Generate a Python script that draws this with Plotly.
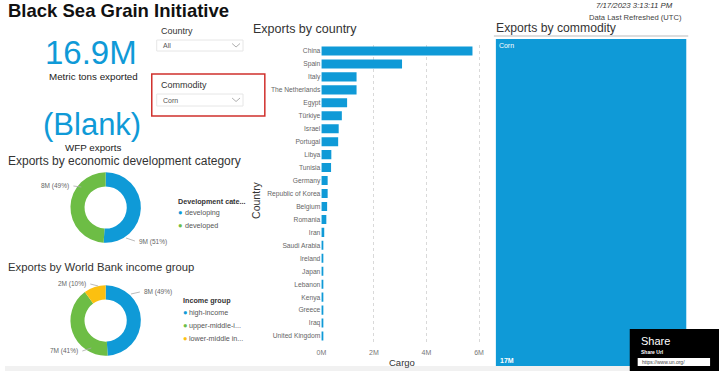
import plotly.graph_objects as go

W, H = 720, 371
def X(px): return px / W
def Y(py): return 1 - py / H

FONT = "Liberation Sans, Arial, sans-serif"
BLUE = "#0f9ad7"
GREEN = "#6dbd45"
YELLOW = "#fcc010"

# ---------------- data ----------------
countries = ["China", "Spain", "Italy", "The Netherlands", "Egypt", "Türkiye", "Israel",
             "Portugal", "Libya", "Tunisia", "Germany", "Republic of Korea", "Belgium",
             "Romania", "Iran", "Saudi Arabia", "Ireland", "Japan", "Lebanon", "Kenya",
             "Greece", "Iraq", "United Kingdom"]
cargo_tons = [5.75e6, 3.07e6, 1.34e6, 1.34e6, 0.98e6, 0.78e6, 0.66e6, 0.64e6, 0.38e6,
              0.37e6, 0.24e6, 0.24e6, 0.22e6, 0.19e6, 0.11e6, 0.06e6, 0.06e6, 0.05e6,
              0.05e6, 0.05e6, 0.05e6, 0.04e6, 0.04e6]
cargo_tickvals = [0, 2e6, 4e6, 6e6]
cargo_ticktext = ["0M", "2M", "4M", "6M"]

dev_labels = ["developing", "developed"]
dev_values = [8.6e6, 8.3e6]
dev_colors = [BLUE, GREEN]

income_labels = ["high-income", "upper-middle-income", "lower-middle income"]
income_legend = ["high-income", "upper-middle-i...", "lower-middle in..."]
income_values = [8.3e6, 6.9e6, 1.7e6]
income_colors = [BLUE, GREEN, YELLOW]

commodities = ["Corn"]
commodity_values = [16.9e6]

total_tons = 16.9e6
wfp_exports = "(Blank)"
refreshed = "7/17/2023 3:13:11 PM"

def fmt_lbl(v, tot):
    return f"{round(v/1e6)}M ({round(100*v/tot)}%)"

fig = go.Figure()

# ---------------- bar chart ----------------
fig.add_trace(go.Bar(
    x=cargo_tons, y=countries, orientation="h",
    marker=dict(color=BLUE, line=dict(width=0)),
    xaxis="x", yaxis="y", showlegend=False, hoverinfo="skip",
))

# ---------------- donuts ----------------
fig.add_trace(go.Pie(
    labels=dev_labels, values=dev_values, hole=0.6, sort=False, direction="clockwise",
    marker=dict(colors=dev_colors, line=dict(width=0)), textinfo="none",
    domain=dict(x=[X(66), X(137)], y=[Y(243), Y(172)]), showlegend=False, hoverinfo="skip",
))
fig.add_trace(go.Pie(
    labels=income_labels, values=income_values, hole=0.6, sort=False, direction="clockwise",
    marker=dict(colors=income_colors, line=dict(width=0)), textinfo="none",
    domain=dict(x=[X(66), X(137)], y=[Y(356), Y(285)]), showlegend=False, hoverinfo="skip",
))

# ---------------- treemap ----------------
fig.add_trace(go.Treemap(
    labels=commodities, parents=[""] * len(commodities), values=commodity_values,
    marker=dict(colors=[BLUE] * len(commodities), line=dict(width=0)),
    textinfo="label", textposition="top left",
    textfont=dict(family=FONT, size=7, color="white"),
    tiling=dict(pad=0), pathbar=dict(visible=False),
    domain=dict(x=[X(495), X(687)], y=[Y(366), Y(39)]), hoverinfo="skip",
))

shapes = []
ann = []

def text(x, y, s, size=9, color="#333", xanchor="left", bold=False, italic=False, **kw):
    if bold:
        s = f"<b>{s}</b>"
    if italic:
        s = f"<i>{s}</i>"
    ann.append(dict(x=X(x), y=Y(y), xref="paper", yref="paper", text=s, showarrow=False,
                    xanchor=xanchor, yanchor="middle",
                    font=dict(family=FONT, size=size, color=color), **kw))

def line(x0, y0, x1, y1, color="#aaa", width=0.8):
    shapes.append(dict(type="line", xref="paper", yref="paper", x0=X(x0), y0=Y(y0),
                       x1=X(x1), y1=Y(y1), line=dict(color=color, width=width)))

def rect(x0, y0, x1, y1, fill=None, lc=None, lw=1):
    shapes.append(dict(type="rect", xref="paper", yref="paper", x0=X(x0), y0=Y(y0),
                       x1=X(x1), y1=Y(y1), fillcolor=fill or "rgba(0,0,0,0)",
                       line=dict(color=lc or "rgba(0,0,0,0)", width=lw if lc else 0),
                       layer="above"))

# title
text(1, 10, "Black Sea Grain Initiative", size=18.5, color="#111", bold=True)

# KPIs
text(87, 53, f"{total_tons/1e6:.1f}M", size=33, color=BLUE, xanchor="center")
text(89, 77, "Metric tons exported", size=9.8, color="#222", xanchor="center")
text(88, 124, wfp_exports, size=31, color=BLUE, xanchor="center")
text(89, 147, "WFP exports", size=9.8, color="#222", xanchor="center")

# slicers
def chevron(cx, cy):
    shapes.append(dict(type="path", xref="paper", yref="paper",
                       path=f"M {X(cx-4)},{Y(cy-2)} L {X(cx)},{Y(cy+1.5)} L {X(cx+4)},{Y(cy-2)}",
                       line=dict(color="#999", width=0.8)))

text(155, 31, "Country", size=9, color="#333")
rect(153, 40, 240, 51, lc="#e6e6e6")
text(157, 45.5, "All", size=7, color="#555")
chevron(233, 45.5)

rect(148, 74, 262, 116, lc="#d0312d", lw=1.5)
text(155, 85, "Commodity", size=9, color="#333")
rect(153, 94, 240, 106, lc="#e6e6e6")
text(157, 100, commodities[0], size=7, color="#555")
chevron(233, 100)

# donut section 1
text(1, 161, "Exports by economic development category", size=12, color="#333")
tot_dev = sum(dev_values)
text(67, 186, fmt_lbl(dev_values[1], tot_dev), size=6.5, color="#666", xanchor="right")
line(69, 186, 77, 187)
text(133, 242, fmt_lbl(dev_values[0], tot_dev), size=6.5, color="#666", xanchor="left")
line(122, 238, 131, 241)
text(172, 201, "Development cate...", size=7.2, color="#333", bold=True)
for i, (lab, col) in enumerate(zip(dev_labels, dev_colors)):
    yy = 212 + 13 * i
    text(172, yy, "●", size=7.5, color=col)
    text(179, yy, lab, size=7.2, color="#555")

# donut section 2
text(1, 267, "Exports by World Bank income group", size=11.3, color="#333")
tot_inc = sum(income_values)
text(84, 284, fmt_lbl(income_values[2], tot_inc), size=6.5, color="#666", xanchor="right")
line(86, 284, 94, 286)
text(138, 292, fmt_lbl(income_values[0], tot_inc), size=6.5, color="#666", xanchor="left")
line(127, 294, 136, 292)
text(76, 351, fmt_lbl(income_values[1], tot_inc), size=6.5, color="#666", xanchor="right")
line(78, 351, 87, 348)
text(177, 300, "Income group", size=7.2, color="#333", bold=True)
for i, (lab, col) in enumerate(zip(income_legend, income_colors)):
    yy = 312 + 13 * i
    text(177, yy, "●", size=7.5, color=col)
    text(184, yy, lab, size=7.2, color="#555")

# bar chart titles
text(248, 29, "Exports by country", size=12.5, color="#333")
text(253, 200, "Country", size=10.5, color="#333", xanchor="center", textangle=-90)
text(400, 362, "Cargo", size=9.5, color="#333", xanchor="center")

# commodity treemap title + total
text(493, 28, "Exports by commodity", size=12.2, color="#333")
line(493, 36, 689, 36, color="#bbb", width=1)
text(497, 360, f"{round(sum(commodity_values)/1e6)}M", size=7, color="white", bold=True)

# refreshed
text(676, 5, refreshed, size=7.8, color="#333", xanchor="right", italic=True)
text(685, 17, "Data Last Refreshed (UTC)", size=7.6, color="#444", xanchor="right")

# bottom strip
rect(0, 366, 720, 371, fill="#f1f1f1")

# share box
rect(630, 329, 720, 371, fill="black")
text(639, 341, "Share", size=11, color="white")
text(639, 352, "Share Url", size=5, color="white", bold=True)
rect(638, 358, 711, 366, fill="white")
text(640, 362, "https://www.un.org/", size=5, color="#444")

fig.update_layout(
    width=W, height=H, margin=dict(l=0, r=0, t=0, b=0),
    paper_bgcolor="white", plot_bgcolor="white",
    font=dict(family=FONT),
    xaxis=dict(domain=[X(319), X(482)], range=[0, 6.15e6], tickvals=cargo_tickvals,
               ticktext=cargo_ticktext, showgrid=True, gridcolor="#d9d9d9", griddash="dot",
               gridwidth=1, zeroline=False, showline=False, ticks="", ticklabelstandoff=4,
               tickfont=dict(size=7, color="#777"), anchor="y", fixedrange=True),
    yaxis=dict(domain=[Y(342.5), Y(44.5)], autorange="reversed", showgrid=False,
               zeroline=False, showline=False, ticks="", tickfont=dict(size=6.7, color="#666"),
               anchor="x", fixedrange=True),
    bargap=0.3,
    shapes=shapes, annotations=ann, showlegend=False,
)

fig.write_html("out.html", config={"displayModeBar": False},
               post_script="document.body.style.margin='0px';document.body.style.overflow='hidden';")
